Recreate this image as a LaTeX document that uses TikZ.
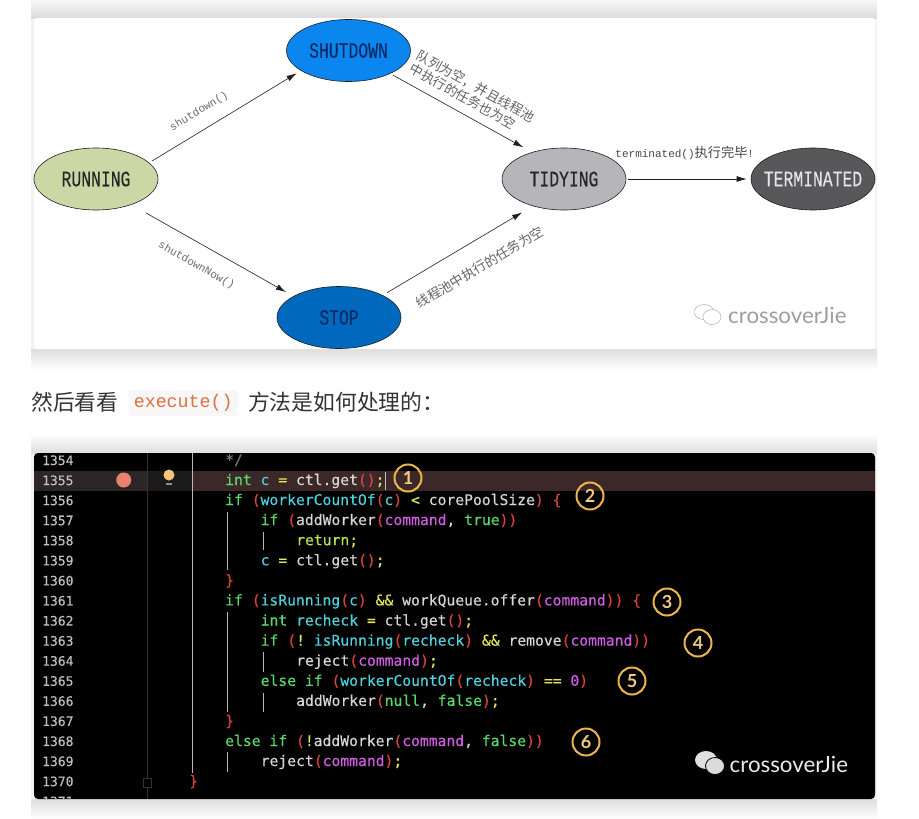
\documentclass[tikz,border=0pt]{standalone}
\usepackage{fontspec}
\usepackage{xcolor}
\usetikzlibrary{arrows.meta,positioning,shapes.geometric}
\setmainfont{Lato}
\newfontfamily\codefont[FakeBold=0.3]{DejaVu Sans Mono}
\newfontfamily\cjk{Noto Sans CJK SC}
\newfontfamily\statefont[FakeStretch=0.745,FakeBold=0.25]{Liberation Mono}
\newfontfamily\labelfont{Liberation Mono}
\definecolor{running}{HTML}{CBD8A5}
\definecolor{shutdown}{HTML}{0A86EE}
\definecolor{stopped}{HTML}{0068BD}
\definecolor{tidying}{HTML}{B6B6BA}
\definecolor{terminated}{HTML}{58585A}
\definecolor{navy}{HTML}{0B2A66}
\definecolor{ink}{HTML}{1E1E1E}
\definecolor{prose}{HTML}{333333}
\definecolor{ckw}{HTML}{5BD86A}
\definecolor{cvar}{HTML}{4FD0DC}
\definecolor{cop}{HTML}{E6E65C}
\definecolor{cpn}{HTML}{D9433A}
\definecolor{cplain}{HTML}{D6D6D6}
\definecolor{cmag}{HTML}{CF5FE0}
\definecolor{cret}{HTML}{B6E24E}
\definecolor{ring}{HTML}{EDB54A}
\definecolor{curline}{HTML}{3C2828}
\definecolor{curno}{HTML}{2C2627}
\definecolor{curgutter}{HTML}{1C1A1A}
\definecolor{dotred}{HTML}{E9816F}
\definecolor{bulbfill}{HTML}{F5C878}
\definecolor{chiptext}{HTML}{DD6F3E}
\newcommand\ckw[1]{\textcolor{ckw}{#1}}
\newcommand\cvar[1]{\textcolor{cvar}{#1}}
\newcommand\cop[1]{\textcolor{cop}{#1}}
\newcommand\cmag[1]{\textcolor{cmag}{#1}}
\newcommand\lpn{\textcolor{cpn}{(}}
\newcommand\rpn{\textcolor{cpn}{)}}
\tikzset{
  >={Latex[length=10pt,width=6pt]},
  state/.style={ellipse,draw=ink,line width=.6pt,minimum width=124pt,minimum height=62pt,inner sep=0pt,font=\statefont\fontsize{22}{22}\selectfont},
  arrow/.style={->,draw=ink,line width=.6pt},
  edgelabel/.style={font=\labelfont\fontsize{11}{13}\selectfont,text=black!58,inner sep=0pt},
  cjklabel/.style={font=\cjk\fontsize{13.2}{15}\selectfont,text=black!62,inner sep=0pt,align=left},
  lineno/.style={font=\codefont\fontsize{13}{13}\selectfont,text=black!25,anchor=base west,inner sep=0pt},
  codeline/.style={font=\codefont\fontsize{14.7}{15}\selectfont\frenchspacing,text=cplain,anchor=base west,inner sep=0pt},
  guide/.style={draw=black!28,line width=.7pt},
  stepmark/.style={circle,draw=ring,line width=2pt,minimum size=27pt,inner sep=0pt,text=ring!70!white,font=\bfseries\fontsize{18}{18}\selectfont},
  brand/.style={font=\fontsize{22.3}{22}\selectfont,inner sep=0pt},
  prosetext/.style={font=\cjk\fontsize{21.8}{24}\selectfont,text=prose,inner sep=0pt},
}
\begin{document}
\begin{tikzpicture}[x=1pt,y=-1pt]
\useasboundingbox (0,0) rectangle (919,819);
\fill[white] (0,0) rectangle (919,819);

\fill[black!5] (31,0) rectangle (877,368);
\shade[top color=black!3,bottom color=black!14] (31,0) rectangle (877,18);
\shade[top color=black!13,bottom color=white] (31,349) rectangle (877,370);
\fill[white,rounded corners=3pt] (34,18) rectangle (875,349);

\node[state,fill=running,text=black!85] (running) at (96,179) {RUNNING};
\node[state,fill=shutdown,text=navy] (shutdown) at (348.5,50.5) {SHUTDOWN};
\node[state,fill=stopped,text=navy] (stop) at (339,317.5) {STOP};
\node[state,fill=tidying,text=black!85] (tidying) at (564,179) {TIDYING};
\node[state,fill=terminated,text=white!90!black] (terminated) at (813,179) {\makebox[60pt]{TERMINATED}};

\draw[arrow,shorten <=3pt,shorten >=5pt] (running.17.5) -- node[edgelabel,sloped,pos=.39,above=12.5pt] {shutdown()} (shutdown.203.3);
\draw[arrow,shorten <=16.5pt,shorten >=8.5pt] (running.-36.1) -- node[edgelabel,sloped,pos=.465,below=15.5pt] {shutdownNow()} (stop.155.7);
\draw[arrow,shorten <=3pt,shorten >=10pt] (shutdown.-29.5) -- node[cjklabel,sloped,pos=.50,above=9pt] {队列为空，并且线程池\\中执行的任务也为空} (tidying.140.9);
\draw[arrow,shorten <=5pt,shorten >=12.5pt] (stop.27.7) -- node[cjklabel,sloped,pos=.56,below=19pt] {线程池中执行的任务为空} (tidying.221.5);
\draw[arrow,line width=.8pt,shorten <=2pt,shorten >=4pt] (tidying.east) -- node[edgelabel,pos=.47,above=19pt,text=black!72] {terminated()\cjk\fontsize{13.2}{15}\selectfont 执行完毕\labelfont\fontsize{11}{13}\selectfont !} (terminated.west);

\node[draw=black!30,fill=white,ellipse,minimum width=20pt,minimum height=15pt,inner sep=0pt,line width=.5pt] (brandbig) at (704,312) {};
\node[draw=black!30,fill=white,ellipse,minimum width=18pt,minimum height=15pt,inner sep=0pt,line width=.5pt] (brandsmall) at (712,317) {};
\node[brand,text=black!38,anchor=west] (brandtop) at (728,315) {crossoverJie};

\node[prosetext,anchor=west] (then) at (31,402) {然后看看};
\node[fill=black!3,rounded corners=3pt,inner xsep=5pt,inner ysep=0pt,minimum height=26pt,text=chiptext,font=\labelfont\fontsize{18.3}{20}\selectfont,right=10pt of then,yshift=-1pt] (execute) {execute()};
\node[prosetext,right=10pt of execute,yshift=1pt] (howto) {方法是如何处理的：};

\fill[black!5] (31,436) rectangle (877,816);
\shade[top color=white,bottom color=black!13] (31,434) rectangle (877,453);
\shade[top color=black!13,bottom color=white] (31,799) rectangle (877,819);
\fill[black,rounded corners=4pt] (34,453) rectangle (875,799);

\begin{scope}
\clip[rounded corners=4pt] (34,453) rectangle (875,799);
\fill[curno] (34,471) rectangle (147,490.5);
\fill[curgutter] (147,471) rectangle (192,490.5);
\fill[curline] (192,471) rectangle (875,490.5);
\draw[draw=black!80,line width=.7pt] (147,453) -- (147,799);
\draw[guide] (192,453) -- (192,773);
\foreach \n in {1354,...,1371} {
  \pgfmathsetmacro{\rowy}{465+(\n-1354)*20.07}
  \node[lineno] (no\n) at (42,\rowy) {\n};
}
\end{scope}

\draw[guide] (227,512) -- (227,570);
\draw[guide] (263,532) -- (263,550);
\draw[guide] (227,612) -- (227,712);
\draw[guide] (263,652) -- (263,672);
\draw[guide] (263,693) -- (263,712);
\draw[guide] (227,752) -- (227,772);
\draw[draw=white!75!black,line width=1pt] (385,472) -- (385,490);

\node[circle,fill=dotred,minimum size=15pt,inner sep=0pt] (breakpoint) at (123.7,480) {};
\node[circle,fill=bulbfill,minimum size=11pt,inner sep=0pt] (bulb) at (169,475) {};
\node[fill=black!45,minimum width=6pt,minimum height=2pt,inner sep=0pt] (bulbbase) at (169,484) {};
\node[draw=black!80,fill=black,minimum width=8pt,minimum height=9pt,inner sep=0pt,line width=.6pt] (fold) at (147,783) {};

\node[codeline,text=black!55] (l1354) at (225,465) { */};
\node[codeline] (l1355) at (225,485) {\ckw{int} \cvar{c} \cop{=} ctl.get\lpn\rpn\cop{;}};
\node[codeline] (l1356) at (225,505) {\ckw{if} \lpn\cvar{workerCountOf}\lpn\cvar{c}\rpn{} \cop{<} corePoolSize\rpn{} \textcolor{cpn}{\{}};
\node[codeline] (l1357) at (260.5,525) {\ckw{if} \lpn{}addWorker\lpn\cmag{command}, \ckw{true}\rpn\rpn};
\node[codeline] (l1358) at (296,545.2) {\textcolor{cret}{return}\cop{;}};
\node[codeline] (l1359) at (260.5,565.3) {\cvar{c} \cop{=} ctl.get\lpn\rpn\cop{;}};
\node[codeline] (l1360) at (225,585.4) {\textcolor{cpn}{\}}};
\node[codeline] (l1361) at (225,605.4) {\ckw{if} \lpn\cvar{isRunning}\lpn\cvar{c}\rpn{} \cop{\&\&} workQueue.offer\lpn\cmag{command}\rpn\rpn{} \textcolor{cpn}{\{}};
\node[codeline] (l1362) at (260.5,625.5) {\ckw{int} \cvar{recheck} \cop{=} ctl.get\lpn\rpn\cop{;}};
\node[codeline] (l1363) at (260.5,645.6) {\ckw{if} \lpn\cop{!} \cvar{isRunning}\lpn\cvar{recheck}\rpn{} \cop{\&\&} remove\lpn\cmag{command}\rpn\rpn};
\node[codeline] (l1364) at (296,665.7) {reject\lpn\cmag{command}\rpn\cop{;}};
\node[codeline] (l1365) at (260.5,685.8) {\ckw{else} \ckw{if} \lpn\cvar{workerCountOf}\lpn\cvar{recheck}\rpn{} \cop{==} \cmag{0}\rpn};
\node[codeline] (l1366) at (296,705.8) {addWorker\lpn\ckw{null}, \ckw{false}\rpn\cop{;}};
\node[codeline] (l1367) at (225,725.9) {\textcolor{cpn}{\}}};
\node[codeline] (l1368) at (225,746) {\ckw{else} \ckw{if} \lpn\cop{!}addWorker\lpn\cmag{command}, \ckw{false}\rpn\rpn};
\node[codeline] (l1369) at (260.5,766) {reject\lpn\cmag{command}\rpn\cop{;}};
\node[codeline] (l1370) at (189,786) {\textcolor{cpn}{\}}};

\node[stepmark] (m1) at (408,478) {1};
\node[stepmark] (m2) at (590,496) {2};
\node[stepmark] (m3) at (667,602) {3};
\node[stepmark] (m4) at (698,643) {4};
\node[stepmark] (m5) at (632,681) {5};
\node[stepmark] (m6) at (586,742) {6};

\node[fill=black!12,ellipse,minimum width=22pt,minimum height=18pt,inner sep=0pt] (wechatbig) at (706,760) {};
\node[draw=black,fill=black!14,ellipse,minimum width=19pt,minimum height=17pt,inner sep=0pt,line width=.8pt] (wechatsmall) at (715,766) {};
\node[brand,text=black!8,anchor=west] (brandcode) at (729.5,764) {crossoverJie};

\end{tikzpicture}
\end{document}
